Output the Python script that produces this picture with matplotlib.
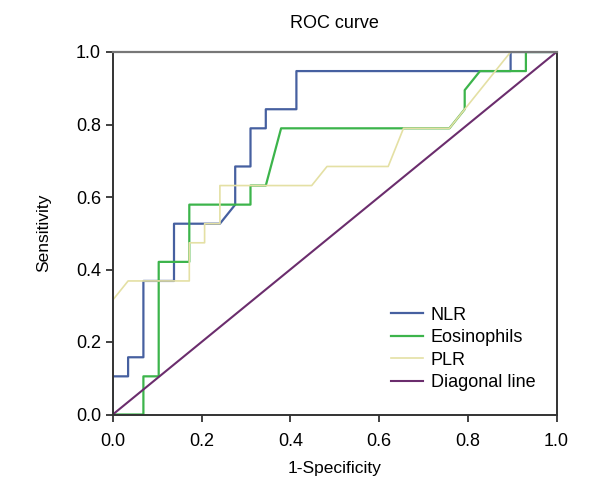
import matplotlib
matplotlib.use("Agg")
import matplotlib.pyplot as plt

# 19 positive cases, 29 negative cases -> values in steps of 1/19 and 1/29
nlr_fpr = [0, 0, 1, 1, 2, 2, 4, 4, 7, 8, 8, 9, 9, 10, 10, 12, 12, 26, 26, 29]
nlr_tpr = [0, 2, 2, 3, 3, 7, 7, 10, 10, 11, 13, 13, 15, 15, 16, 16, 18, 18, 19, 19]

eos_fpr = [0, 2, 2, 3, 3, 5, 5, 9, 9, 10, 11, 22, 23, 23, 24, 27, 27, 29]
eos_tpr = [0, 0, 2, 2, 8, 8, 11, 11, 12, 12, 15, 15, 16, 17, 18, 18, 19, 19]

plr_fpr = [0, 1, 5, 5, 6, 6, 7, 7, 13, 14, 18, 19, 22, 26, 29]
plr_tpr = [6, 7, 7, 9, 9, 10, 10, 12, 12, 13, 13, 15, 15, 19, 19]

n_neg = 29
n_pos = 19

labels = ["NLR", "Eosinophils", "PLR", "Diagonal line"]
colors = ["#4660a0", "#3cb44b", "#e4e0a4", "#6b2d6d"]

plt.rcParams["font.family"] = ["Liberation Sans", "DejaVu Sans"]

fig = plt.figure(figsize=(6, 5), dpi=100)
ax = fig.add_axes([0.188, 0.171, 0.7395, 0.725])

ax.plot([v / n_neg for v in nlr_fpr], [v / n_pos for v in nlr_tpr],
        color=colors[0], lw=1.6, label=labels[0])
ax.plot([v / n_neg for v in eos_fpr], [v / n_pos for v in eos_tpr],
        color=colors[1], lw=1.6, label=labels[1])
ax.plot([v / n_neg for v in plr_fpr], [v / n_pos for v in plr_tpr],
        color=colors[2], lw=1.2, label=labels[2])
ax.plot([0, 1], [0, 1], color=colors[3], lw=1.5, label=labels[3])

ax.set_xlim(0, 1)
ax.set_ylim(0, 1)
ticks = [0.0, 0.2, 0.4, 0.6, 0.8, 1.0]
ax.set_xticks(ticks)
ax.set_yticks(ticks)
ax.set_xticklabels([f"{t:.1f}" for t in ticks])
ax.set_yticklabels([f"{t:.1f}" for t in ticks])
ax.tick_params(direction="out", length=5, width=1.3, labelsize=13, color="#333333")
ax.tick_params(axis="x", pad=8)

for s in ["left", "bottom", "right"]:
    ax.spines[s].set_color("#333333")
    ax.spines[s].set_linewidth(1.4)
ax.spines["top"].set_color("#777777")
ax.spines["top"].set_linewidth(1.6)

ax.set_title("ROC curve", fontsize=13, pad=17)
ax.set_xlabel("1-Specificity", fontsize=12.5, labelpad=8)
ax.set_ylabel("Sensitivity", fontsize=12.5, labelpad=18)

ax.legend(loc="lower left", bbox_to_anchor=(0.59, 0.02), frameon=False,
          fontsize=13, handlelength=1.8, handletextpad=0.4, labelspacing=0.3)

fig.savefig("out.png", dpi=100)
plt.close(fig)
